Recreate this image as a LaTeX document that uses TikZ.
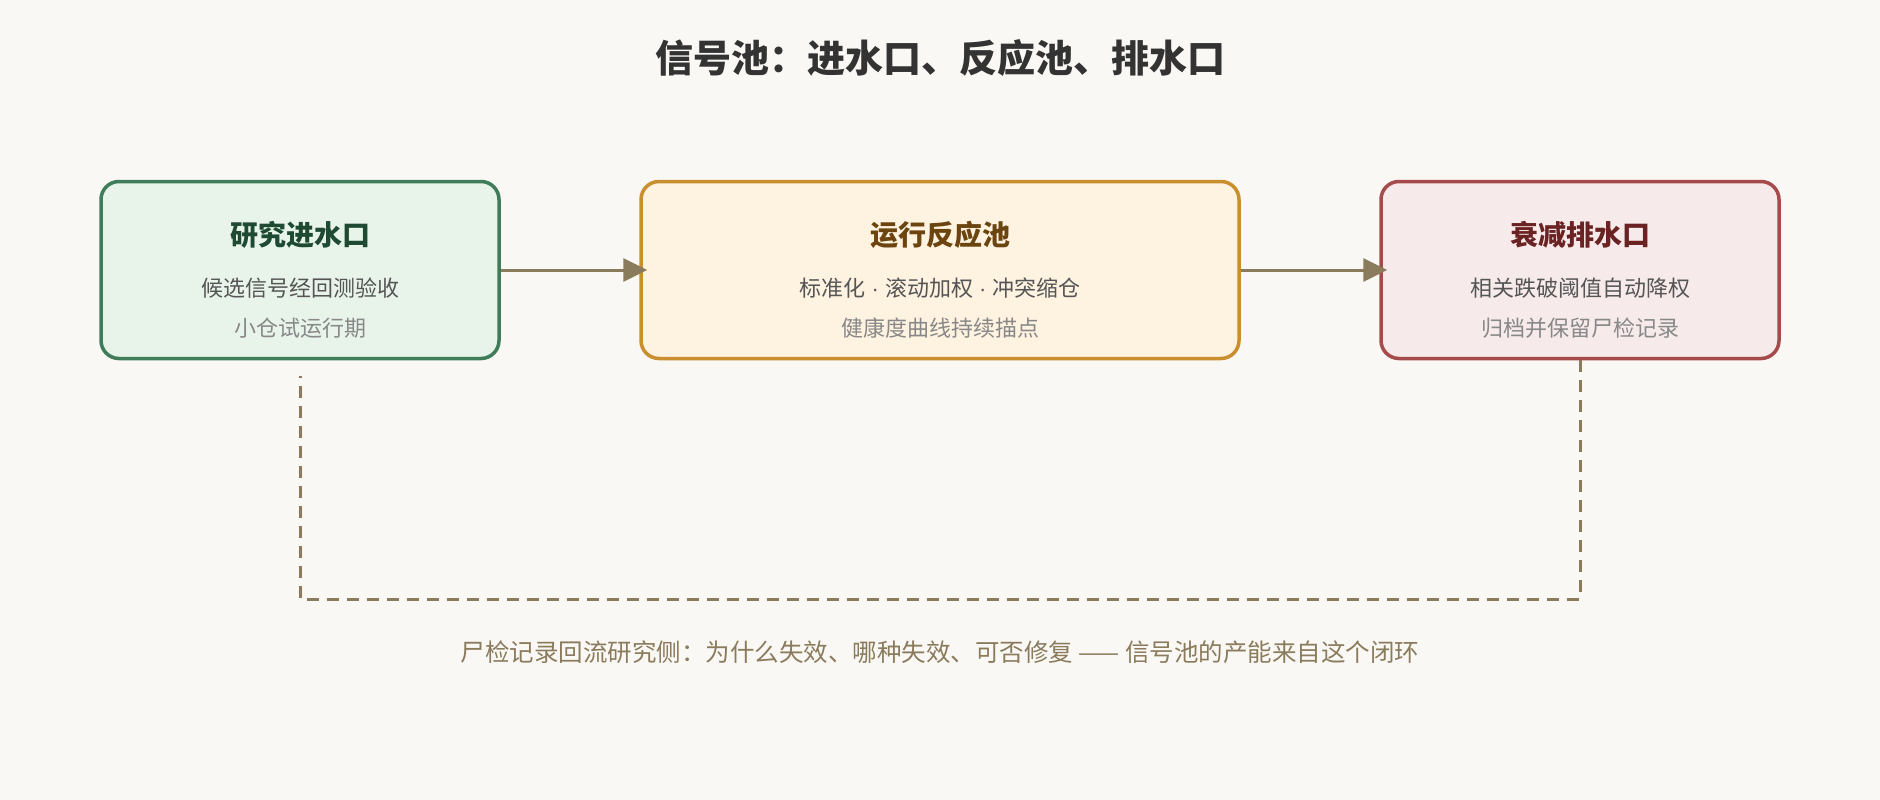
\documentclass[tikz,border=0pt]{standalone}
\usepackage{fontspec}
\setmainfont{Noto Sans CJK SC}
\newfontfamily\latinfont{Liberation Sans}
\usetikzlibrary{arrows.meta}
\definecolor{paper}{HTML}{FAF8F4}
\definecolor{ingreen}{HTML}{3E7C5A}
\definecolor{infill}{HTML}{E8F3EA}
\definecolor{intext}{HTML}{1E4A33}
\definecolor{rxgold}{HTML}{C98E2E}
\definecolor{rxfill}{HTML}{FEF2E0}
\definecolor{rxtext}{HTML}{6B4410}
\definecolor{outred}{HTML}{A64B4B}
\definecolor{outfill}{HTML}{F7EAEA}
\definecolor{outtext}{HTML}{6A2222}
\definecolor{flow}{HTML}{8A7B5C}
\definecolor{bodygray}{HTML}{555555}
\definecolor{notegray}{HTML}{888888}

\begin{document}
\begin{tikzpicture}[x=1pt,y=-1pt,
		pool/.style={draw,line width=3.5pt,rounded corners=18pt,minimum height=177pt,inner sep=0pt},
		head/.style={font=\fontsize{28}{32}\selectfont\bfseries,inner sep=0pt},
		body/.style={font=\fontsize{22}{26}\selectfont,text=bodygray,inner sep=0pt},
		note/.style={font=\fontsize{22}{26}\selectfont,text=notegray,inner sep=0pt},
		flowline/.style={draw=flow,line width=3pt}]
		\useasboundingbox[fill=paper] (0,0) rectangle (1880,800);
		
		\node[font=\fontsize{38}{44}\selectfont\bfseries,text=black!80] (title) at (940,58) {信号池：进水口、反应池、排水口};
		
		\node[pool,draw=ingreen,fill=infill,minimum width=398pt] (in) at (300,270) {};
		\node[pool,draw=rxgold,fill=rxfill,minimum width=598pt] (rx) at (940,270) {};
		\node[pool,draw=outred,fill=outfill,minimum width=398pt] (out) at (1580,270) {};
		
		\node[head,text=intext] (inhead) at (300,235) {研究进水口};
		\node[body] (inbody) at (300,288) {候选信号经回测验收};
		\node[note] (innote) at (300,328) {小仓试运行期};
		
		\node[head,text=rxtext] (rxhead) at (940,235) {运行反应池};
		\node[body] (rxbody) at (940,288) {标准化{\latinfont{} · }滚动加权{\latinfont{} · }冲突缩仓};
		\node[note] (rxnote) at (940,328) {健康度曲线持续描点};
		
		\node[head,text=outtext] (outhead) at (1580,235) {衰减排水口};
		\node[body] (outbody) at (1580,288) {相关跌破阈值自动降权};
		\node[note] (outnote) at (1580,328) {归档并保留尸检记录};
		
		\draw[flowline,-{Triangle[length=24pt,width=23pt]},shorten >=-8pt] (in.east) -- (rx.west);
		\draw[flowline,-{Triangle[length=24pt,width=23pt]},shorten >=-8pt] (rx.east) -- (out.west);
		
		% loop back to the intake
		\coordinate (loop) at (1580,599);
		\coordinate (back) at (300,376);
		\draw[flowline,dash pattern=on 12pt off 8pt] (out.south) -- (loop) -| (back);
		
		\node[font=\fontsize{24.5}{28}\selectfont,text=flow] (caption) at (940,652) {尸检记录回流研究侧：为什么失效、哪种失效、可否修复 —— 信号池的产能来自这个闭环};
	\end{tikzpicture}
\end{document}
